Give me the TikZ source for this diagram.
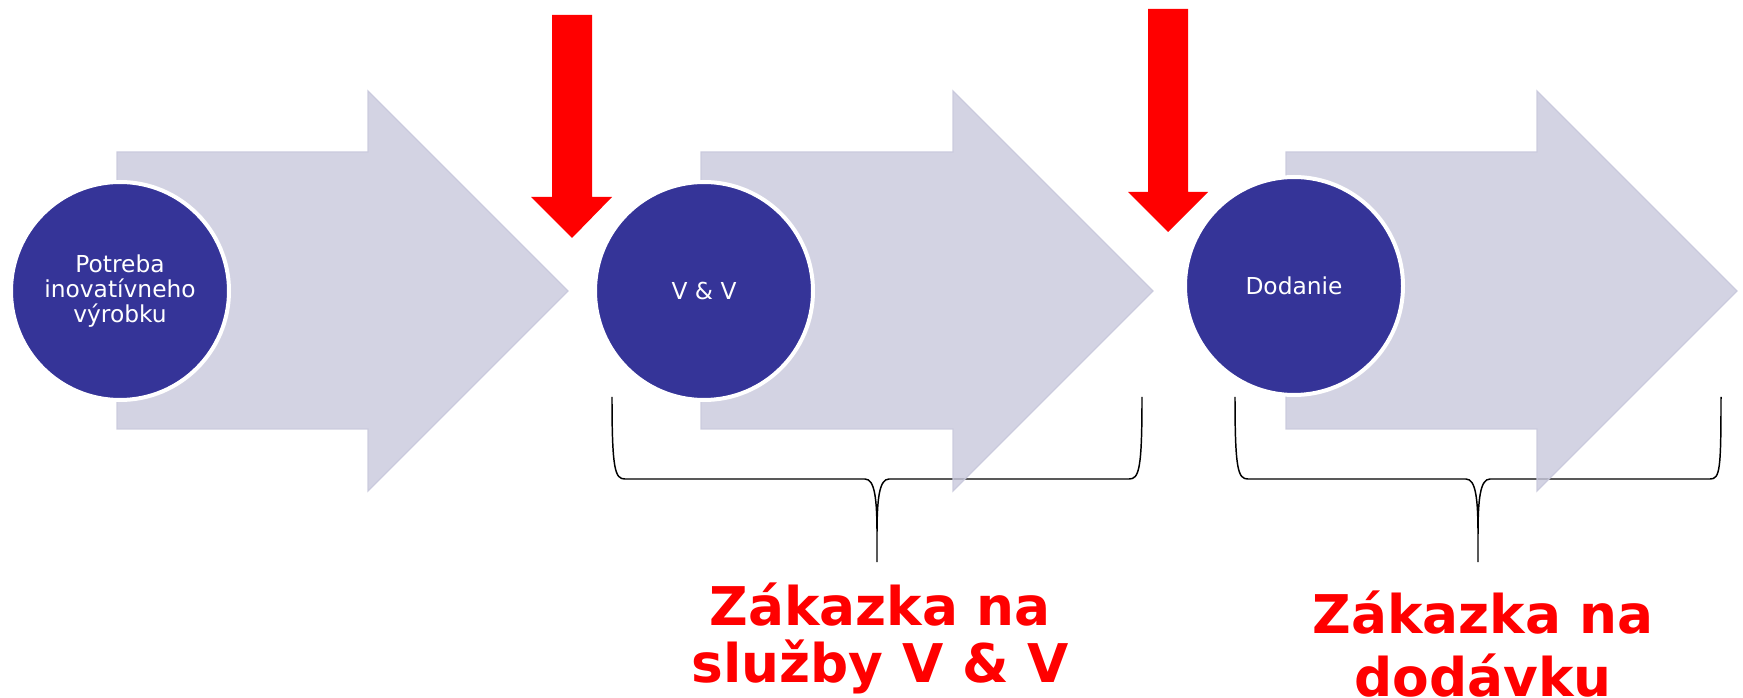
\documentclass[tikz,border=0pt]{standalone}
\usepackage{fontspec}
\setmainfont{DejaVu Sans}
\definecolor{circblue}{RGB}{53,52,152}
\definecolor{arrowc}{RGB}{200,200,220}
\begin{document}
\begin{tikzpicture}[x=0.75pt,y=-0.75pt,
  bigarrow/.style={fill=arrowc,fill opacity=0.8,draw=arrowc,draw opacity=0.9,line width=1pt},
  redarrow/.style={fill=red,draw=none},
  stage/.style={circle,fill=circblue,draw=white,line width=3pt,minimum size=163.5pt,inner sep=0pt,
    text=white,font=\fontsize{17.5}{18.75}\selectfont,align=center},
  brace/.style={draw=black,line width=1.1pt},
  biglabel/.style={text=red,font=\fontsize{40}{42.75}\selectfont\bfseries,align=center,anchor=base,inner sep=0pt}]
\useasboundingbox (0,0) rectangle (1743,698);
% braces
\draw[brace] (612,397) .. controls (612,470) and (615,479) .. (625,479) -- (865,479)
  .. controls (875,479) and (877,500) .. (877,535) -- (877,562) -- (877,535)
  .. controls (877,500) and (879,479) .. (889,479) -- (1129,479)
  .. controls (1139,479) and (1142,470) .. (1142,397);
\draw[brace] (1235,397) .. controls (1235,470) and (1238,479) .. (1248,479) -- (1466,479)
  .. controls (1476,479) and (1478,500) .. (1478,535) -- (1478,562) -- (1478,535)
  .. controls (1478,500) and (1480,479) .. (1490,479) -- (1710,479)
  .. controls (1720,479) and (1721,470) .. (1721,397);
% big process arrows
\foreach \L/\B/\T in {117/368/568, 701/953/1153, 1286/1537/1737}{
  \path[bigarrow] (\L,152) -- (\B,152) -- (\B,91) -- (\T,291) -- (\B,491) -- (\B,429) -- (\L,429) -- cycle;
}
% stages
\node[stage] (c1) at (120,291) {Potreba\\inovatívneho\\výrobku};
\node[stage] (c2) at (704,291) {V \& V};
\node[stage] (c3) at (1294,286) {Dodanie};
% red arrows
\path[redarrow] (552,15) -- (592,15) -- (592,197) -- (612,197) -- (572,238) -- (531,197) -- (552,197) -- cycle;
\path[redarrow] (1148,9) -- (1188,9) -- (1188,192) -- (1208,192) -- (1168,232) -- (1128,192) -- (1148,192) -- cycle;
% labels
\node[biglabel] (t1) at (880,682) {Zákazka na\\služby V \& V};
\node[biglabel,font=\fontsize{40}{47.25}\selectfont\bfseries] (t2) at (1483,696) {Zákazka na\\dodávku};
\end{tikzpicture}
\end{document}
